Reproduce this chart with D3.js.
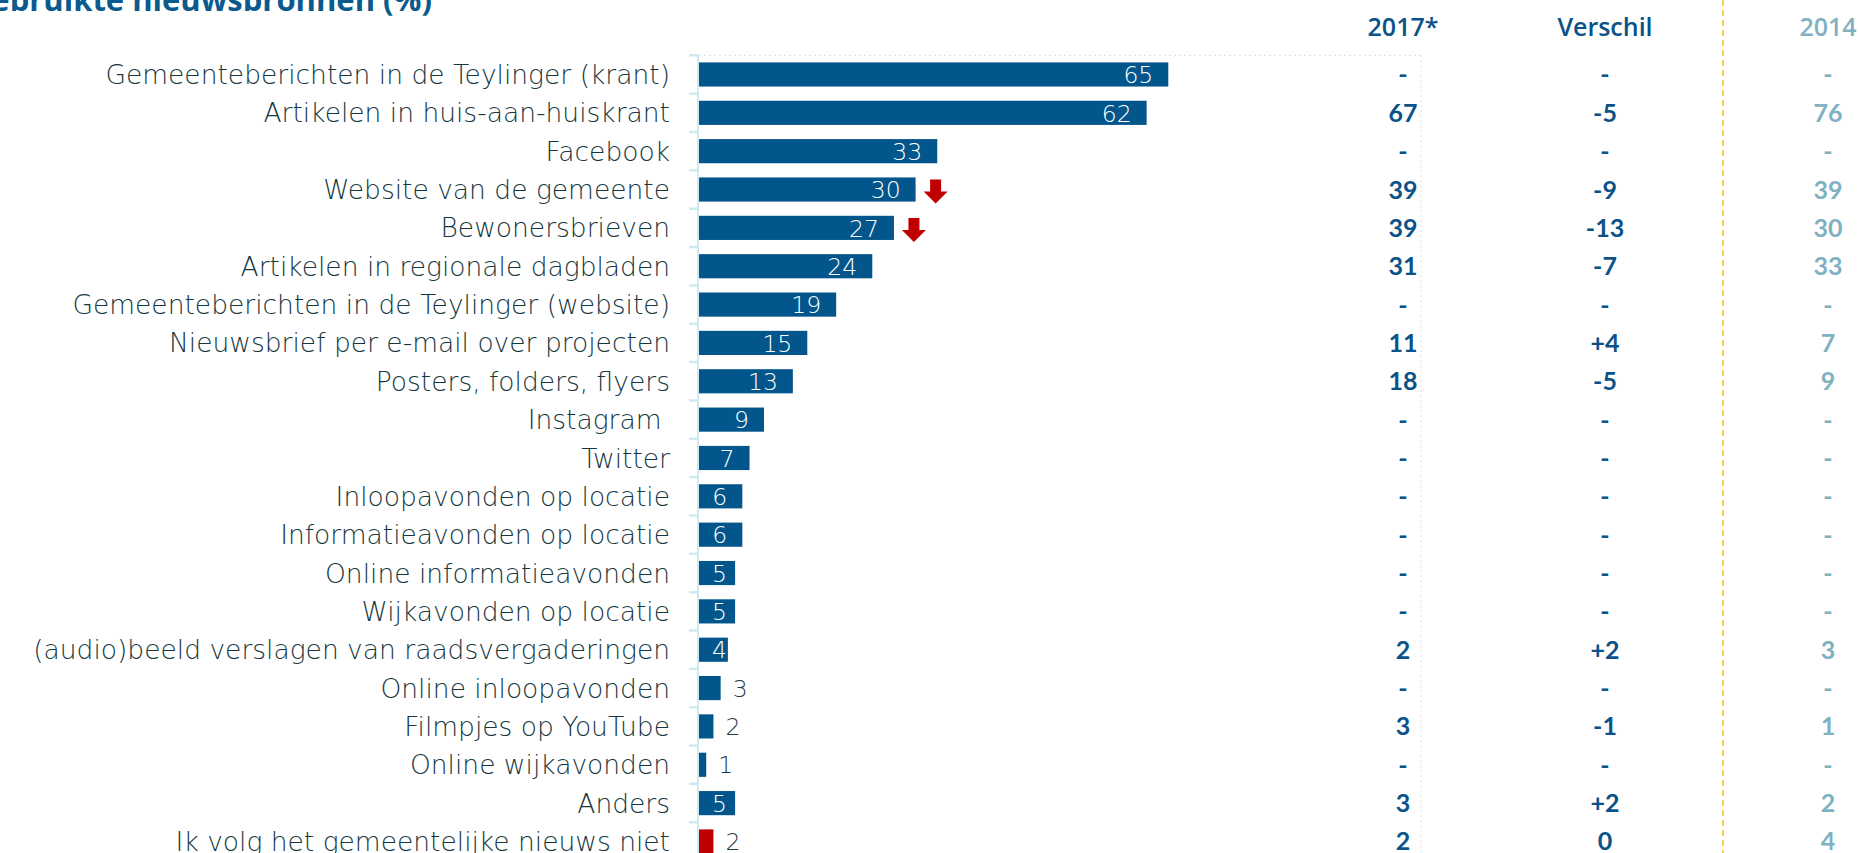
<!DOCTYPE html>
<html>
<head>
<meta charset="utf-8">
<script src="https://cdn.jsdelivr.net/npm/d3@7"></script>
<style>
  html, body { margin: 0; padding: 0; background: #ffffff; overflow: hidden; }
  svg { display: block; }
</style>
</head>
<body>
<svg id="chart" width="1858" height="853"></svg>
<script>
// ---------- DATA ----------
const title = "Gebruikte nieuwsbronnen (%)";
const categories = [
  "Gemeenteberichten in de Teylinger (krant)",
  "Artikelen in huis-aan-huiskrant",
  "Facebook",
  "Website van de gemeente",
  "Bewonersbrieven",
  "Artikelen in regionale dagbladen",
  "Gemeenteberichten in de Teylinger (website)",
  "Nieuwsbrief per e-mail over projecten",
  "Posters, folders, flyers",
  "Instagram ",
  "Twitter",
  "Inloopavonden op locatie",
  "Informatieavonden op locatie",
  "Online informatieavonden",
  "Wijkavonden op locatie",
  "(audio)beeld verslagen van raadsvergaderingen",
  "Online inloopavonden",
  "Filmpjes op YouTube",
  "Online wijkavonden",
  "Anders",
  "Ik volg het gemeentelijke nieuws niet"
];
const values2020 = [65, 62, 33, 30, 27, 24, 19, 15, 13, 9, 7, 6, 6, 5, 5, 4, 3, 2, 1, 5, 2];
const highlightRed = [false, false, false, false, false, false, false, false, false, false,
                      false, false, false, false, false, false, false, false, false, false, true];
const significantDown = [false, false, false, true, true, false, false, false, false, false,
                         false, false, false, false, false, false, false, false, false, false, false];
const columnHeaders = ["2017*", "Verschil", "2014"];
const col2017 = ["-", "67", "-", "39", "39", "31", "-", "11", "18", "-", "-", "-", "-", "-", "-", "2", "-", "3", "-", "3", "2"];
const colVerschil = ["-", "-5", "-", "-9", "-13", "-7", "-", "+4", "-5", "-", "-", "-", "-", "-", "-", "+2", "-", "-1", "-", "+2", "0"];
const col2014 = ["-", "76", "-", "39", "30", "33", "-", "7", "9", "-", "-", "-", "-", "-", "-", "3", "-", "1", "-", "2", "4"];

// ---------- STYLE / LAYOUT ----------
const W = 1858, H = 853;
const BLUE = "#02568b", RED = "#c00000";
const LABEL_COLOR = "#163740";
const DARK_COL = "#0b5288", LIGHT_COL = "#7fb1c2";
const THIN_FONT = "'DejaVu Sans', 'Open Sans', sans-serif";
const BOLD_FONT = "'Open Sans', Lato, sans-serif";
const NUM_FONT = "Lato, 'Open Sans', sans-serif";

const svg = d3.select("#chart");

const x = d3.scaleLinear().domain([0, 100]).range([699, 1421]);
const y = d3.scaleBand().domain(categories).range([55.3, 55.3 + 21 * 38.35])
  .paddingInner(0.37).paddingOuter(0.185);
const gap = (y.step() - y.bandwidth()) / 2;

// Plot area dotted border (top and right)
const plotTop = y.range()[0], plotBottom = y.range()[1];
svg.append("line").attr("x1", x(0)).attr("x2", x(100)).attr("y1", plotTop).attr("y2", plotTop)
  .attr("stroke", "#e3e3e3").attr("stroke-width", 1.2).attr("stroke-dasharray", "2,3");
svg.append("line").attr("x1", x(100)).attr("x2", x(100)).attr("y1", plotTop).attr("y2", plotBottom)
  .attr("stroke", "#e3e3e3").attr("stroke-width", 1.2).attr("stroke-dasharray", "2,3");

// Yellow dashed separator
svg.append("line").attr("x1", 1723).attr("x2", 1723).attr("y1", 0).attr("y2", H)
  .attr("stroke", "#e6c619").attr("stroke-width", 1.5).attr("stroke-dasharray", "6,4");

// Title
svg.append("text").attr("x", 432).attr("y", 11).attr("text-anchor", "end")
  .attr("font-family", BOLD_FONT).attr("font-weight", 700).attr("font-size", 31)
  .attr("fill", "#0b5a8e").text(title);

// Category axis (line + ticks between categories)
const axisG = svg.append("g");
axisG.append("line").attr("x1", x(0) - 1).attr("x2", x(0) - 1).attr("y1", plotTop).attr("y2", plotBottom)
  .attr("stroke", "#cfe9f0").attr("stroke-width", 2);
const boundaries = categories.map(c => y(c) - gap).concat([y(categories[categories.length - 1]) + y.bandwidth() + gap]);
axisG.selectAll("line.tick").data(boundaries).enter().append("line").attr("class", "tick")
  .attr("x1", x(0) - 10).attr("x2", x(0) - 1).attr("y1", d => d).attr("y2", d => d)
  .attr("stroke", "#cfe9f0").attr("stroke-width", 2.5);

// Category labels
svg.selectAll("text.cat").data(categories).enter().append("text").attr("class", "cat")
  .attr("x", 670).attr("y", d => y(d) + y.bandwidth() / 2)
  .attr("dy", "0.36em").attr("text-anchor", "end")
  .attr("font-family", THIN_FONT).attr("font-weight", 200).attr("font-size", 26.5)
  .attr("fill", LABEL_COLOR).style("white-space", "pre").text(d => d);

// Bars
const rows = categories.map((c, i) => ({ c, v: values2020[i], red: highlightRed[i], down: significantDown[i], i }));
svg.selectAll("rect.bar").data(rows).enter().append("rect").attr("class", "bar")
  .attr("x", x(0)).attr("y", d => y(d.c))
  .attr("width", d => x(d.v) - x(0)).attr("height", y.bandwidth())
  .attr("fill", d => d.red ? RED : BLUE);

// Value labels
svg.selectAll("text.val").data(rows).enter().append("text").attr("class", "val")
  .attr("x", d => d.v >= 4 ? Math.max(x(d.v) - 15, x(0) + 28) : x(d.v) + 12)
  .attr("y", d => y(d.c) + y.bandwidth() / 2)
  .attr("dy", "0.37em")
  .attr("text-anchor", d => d.v >= 4 ? "end" : "start")
  .attr("font-family", THIN_FONT).attr("font-weight", 200).attr("font-size", 23.5)
  .attr("fill", d => d.v >= 4 ? "#ffffff" : "#1f3c45")
  .text(d => d.v);

// Down arrows for significant decreases
const arrowPath = "M-5.5,-12 L5.5,-12 L5.5,0 L12,0 L0,12 L-12,0 L-5.5,0 Z";
svg.selectAll("path.arrow").data(rows.filter(d => d.down)).enter().append("path").attr("class", "arrow")
  .attr("transform", d => `translate(${x(d.v) + 20},${y(d.c) + y.bandwidth() / 2 + 2})`)
  .attr("d", arrowPath).attr("fill", RED);

// Side table
const colX = [1403, 1605, 1828];
const colData = [col2017, colVerschil, col2014];
const colColor = [DARK_COL, DARK_COL, LIGHT_COL];
columnHeaders.forEach((h, k) => {
  svg.append("text").attr("x", colX[k]).attr("y", 27).attr("dy", "0.35em")
    .attr("text-anchor", "middle").attr("font-family", BOLD_FONT).attr("font-weight", 600)
    .attr("font-size", 25).attr("fill", colColor[k]).text(h);
  svg.selectAll("text.col" + k).data(colData[k]).enter().append("text").attr("class", "col" + k)
    .attr("x", colX[k]).attr("y", (d, i) => y(categories[i]) + y.bandwidth() / 2)
    .attr("dy", "0.36em").attr("text-anchor", "middle")
    .attr("font-family", NUM_FONT).attr("font-weight", 700).attr("font-size", 25)
    .attr("fill", colColor[k]).text(d => d);
});
</script>
</body>
</html>
